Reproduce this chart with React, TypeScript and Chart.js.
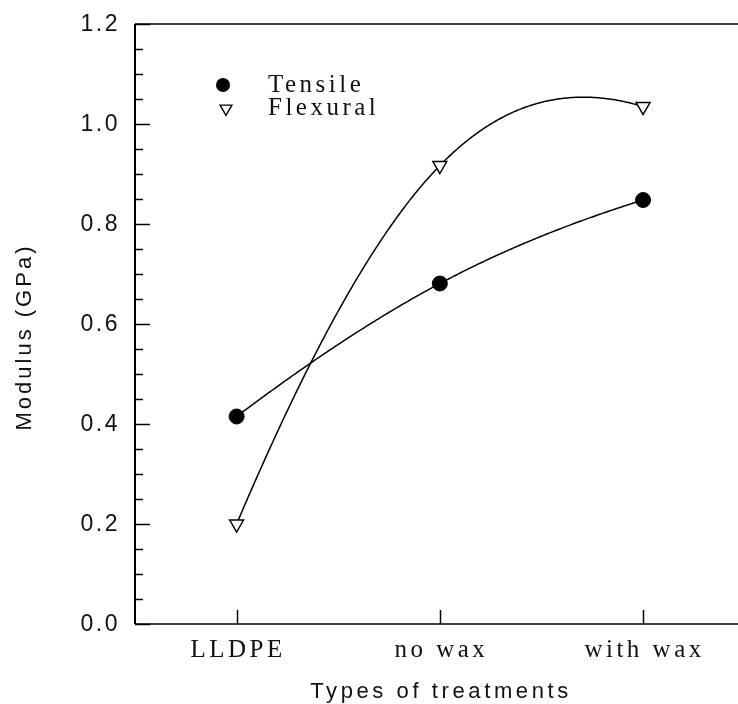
import React, { useEffect, useRef } from "react";
import { Chart, registerables } from "chart.js";

Chart.register(...registerables);

// ---- data ----
const categories = ["LLDPE", "no wax", "with wax"];
const tensile = [0.415, 0.681, 0.848];
const flexural = [0.2, 0.917, 1.035];
const seriesNames = ["Tensile", "Flexural"];
const yTickValues = [0, 0.2, 0.4, 0.6, 0.8, 1.0, 1.2];
const yTickLabels = ["0.0", "0.2", "0.4", "0.6", "0.8", "1.0", "1.2"];
const yMinorStep = 0.05;
const xTitle = "Types of treatments";
const yTitle = "Modulus (GPa)";

// smooth cubic spline through evenly spaced points (end curvature = half of inner)
function splineMoments(ys: number[]): number[] {
  const k = 0.5;
  const D = ys[0] - 2 * ys[1] + ys[2];
  const M1 = (6 * D) / (4 + 2 * k);
  return [k * M1, M1, k * M1];
}
function evalSpline(ys: number[], M: number[], xv: number): number {
  let i = Math.floor(xv);
  if (i >= ys.length - 1) i = ys.length - 2;
  if (i < 0) i = 0;
  const t = xv - i;
  const u = 1 - t;
  return (
    (M[i] * u * u * u) / 6 +
    (M[i + 1] * t * t * t) / 6 +
    (ys[i] - M[i] / 6) * u +
    (ys[i + 1] - M[i + 1] / 6) * t
  );
}

function drawTriangleDown(ctx: CanvasRenderingContext2D, cx: number, cy: number, r: number) {
  ctx.beginPath();
  for (let j = 0; j < 3; j++) {
    const a = Math.PI + (j * 2 * Math.PI) / 3;
    const px = cx + Math.sin(a) * r;
    const py = cy - Math.cos(a) * r;
    if (j === 0) ctx.moveTo(px, py);
    else ctx.lineTo(px, py);
  }
  ctx.closePath();
  ctx.fillStyle = "#fff";
  ctx.fill();
  ctx.stroke();
}

const customPlugin = {
  id: "customDraw",
  beforeDatasetsDraw(chart: any) {
    const { ctx, scales } = chart;
    const xs = scales.x;
    const ys = scales.y;
    ctx.save();
    ctx.strokeStyle = "#000";
    ctx.lineWidth = 1.5;
    ctx.lineJoin = "round";
    [tensile, flexural].forEach((vals) => {
      const M = splineMoments(vals);
      ctx.beginPath();
      const n = 300;
      for (let s = 0; s <= n; s++) {
        const xv = ((vals.length - 1) * s) / n;
        const v = evalSpline(vals, M, xv);
        const px = xs.getPixelForValue(xv);
        const py = ys.getPixelForValue(v);
        if (s === 0) ctx.moveTo(px, py);
        else ctx.lineTo(px, py);
      }
      ctx.stroke();
    });
    ctx.restore();
  },
  afterDraw(chart: any) {
    const { ctx, scales, chartArea } = chart;
    const xs = scales.x;
    const ys = scales.y;
    const { left, right, top, bottom } = chartArea;
    ctx.save();
    ctx.strokeStyle = "#000";
    ctx.fillStyle = "#111";

    // frame
    ctx.lineWidth = 2;
    ctx.beginPath();
    ctx.moveTo(left, top);
    ctx.lineTo(left, bottom);
    ctx.stroke();
    ctx.lineWidth = 1.5;
    ctx.beginPath();
    ctx.moveTo(left, top);
    ctx.lineTo(right, top);
    ctx.moveTo(left, bottom);
    ctx.lineTo(right, bottom);
    ctx.stroke();

    // y ticks (major + minor), inward
    ctx.lineWidth = 1.5;
    const yMin = ys.min;
    const yMax = ys.max;
    const nMinor = Math.round((yMax - yMin) / yMinorStep);
    for (let i = 0; i <= nMinor; i++) {
      const v = yMin + i * yMinorStep;
      const py = Math.round(ys.getPixelForValue(v)) + 0.5;
      const isMajor = i % 4 === 0;
      ctx.beginPath();
      ctx.moveTo(left, py);
      ctx.lineTo(left + (isMajor ? 15 : 8), py);
      ctx.stroke();
    }
    // x ticks inward
    categories.forEach((_, i) => {
      const px = Math.round(xs.getPixelForValue(i)) + 0.5;
      ctx.beginPath();
      ctx.moveTo(px, bottom);
      ctx.lineTo(px, bottom - 14);
      ctx.stroke();
    });

    // y tick labels
    (ctx as any).letterSpacing = "2.5px";
    ctx.font = '23px "Liberation Sans", Arial, sans-serif';
    ctx.textAlign = "right";
    ctx.textBaseline = "middle";
    yTickValues.forEach((v, i) => {
      ctx.fillText(yTickLabels[i], left - 15, ys.getPixelForValue(v) + 1);
    });

    // x tick labels
    (ctx as any).letterSpacing = "3.5px";
    ctx.font = '25px "Liberation Serif", "Times New Roman", serif';
    ctx.textAlign = "center";
    ctx.textBaseline = "alphabetic";
    categories.forEach((c, i) => {
      ctx.fillText(c, xs.getPixelForValue(i) + 1.5, 657);
    });

    // x title
    (ctx as any).letterSpacing = "3.6px";
    ctx.font = '22px "Liberation Sans", Arial, sans-serif';
    ctx.textAlign = "center";
    ctx.fillText(xTitle, 441, 698);

    // y title
    (ctx as any).letterSpacing = "3px";
    ctx.save();
    ctx.translate(25, 337);
    ctx.rotate(-Math.PI / 2);
    ctx.textAlign = "center";
    ctx.textBaseline = "middle";
    ctx.fillText(yTitle, 0, 0);
    ctx.restore();

    // legend
    ctx.fillStyle = "#000";
    ctx.beginPath();
    ctx.arc(223, 85, 7, 0, Math.PI * 2);
    ctx.fill();
    ctx.lineWidth = 1.4;
    drawTriangleDown(ctx, 226, 108.5, 6.8);
    ctx.fillStyle = "#111";
    (ctx as any).letterSpacing = "3.5px";
    ctx.font = '25px "Liberation Serif", "Times New Roman", serif';
    ctx.textAlign = "left";
    ctx.textBaseline = "alphabetic";
    ctx.fillText(seriesNames[0], 268, 92);
    ctx.fillText(seriesNames[1], 268, 115);

    (ctx as any).letterSpacing = "0px";
    ctx.restore();
  },
};

export default function App() {
  const canvasRef = useRef<HTMLCanvasElement | null>(null);

  useEffect(() => {
    if (!canvasRef.current) return;
    const chart = new Chart(canvasRef.current, {
      type: "scatter",
      data: {
        datasets: [
          {
            label: seriesNames[0],
            data: tensile.map((v, i) => ({ x: i, y: v })),
            showLine: false,
            pointStyle: "circle",
            pointRadius: 7.5,
            pointBackgroundColor: "#000",
            pointBorderColor: "#000",
            pointBorderWidth: 1,
          },
          {
            label: seriesNames[1],
            data: flexural.map((v, i) => ({ x: i, y: v })),
            showLine: false,
            pointStyle: "triangle",
            rotation: 180,
            pointRadius: 8,
            pointBackgroundColor: "#fff",
            pointBorderColor: "#000",
            pointBorderWidth: 1.5,
          },
        ],
      },
      options: {
        animation: false,
        responsive: false,
        devicePixelRatio: 1,
        layout: { autoPadding: false, padding: { left: 135, top: 24, right: 0, bottom: 80 } },
        plugins: {
          legend: { display: false },
          tooltip: { enabled: false },
        },
        scales: {
          x: { type: "linear", bounds: "data", min: -0.5, max: 2.467, display: false },
          y: { type: "linear", bounds: "data", min: 0, max: 1.2, display: false },
        },
      },
      plugins: [customPlugin],
    });
    return () => chart.destroy();
  }, []);

  return (
    <div style={{ position: "absolute", left: 0, top: 0, width: 738, height: 704, background: "#fff" }}>
      <canvas ref={canvasRef} width={738} height={704} style={{ display: "block" }} />
    </div>
  );
}
